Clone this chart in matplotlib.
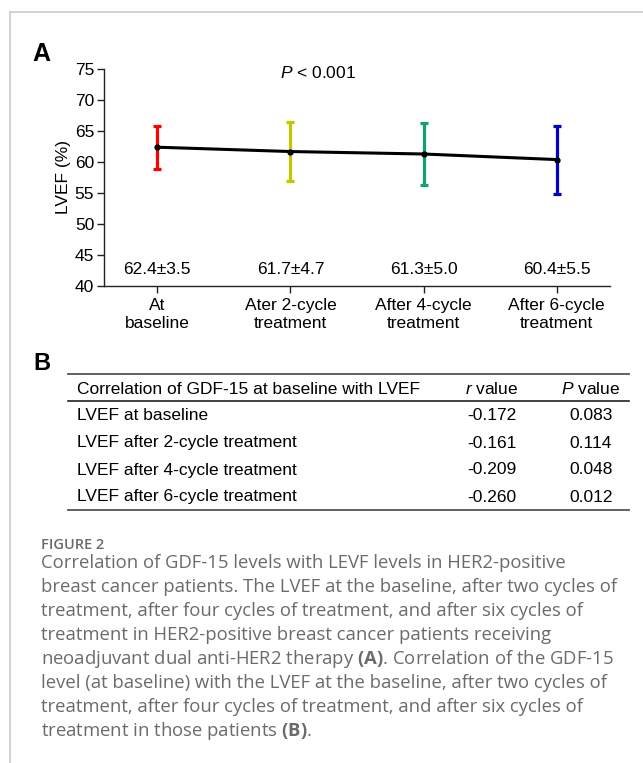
import matplotlib
matplotlib.use('Agg')
import matplotlib.pyplot as plt
import numpy as np

plt.rcParams['font.family'] = ['Liberation Sans', 'DejaVu Sans']
plt.rcParams['mathtext.fontset'] = 'custom'
plt.rcParams['mathtext.rm'] = 'Liberation Sans'
plt.rcParams['mathtext.it'] = 'Liberation Sans:italic'
plt.rcParams['mathtext.bf'] = 'Open Sans:bold'

# Dane - panel A
groups = ['At\nbaseline', 'Ater 2-cycle\ntreatment',
          'After 4-cycle\ntreatment', 'After 6-cycle\ntreatment']
lvef_mean = [62.4, 61.7, 61.3, 60.4]
lvef_sd = [3.5, 4.7, 5.0, 5.5]
group_colors = ['#ff0000', '#c6c600', '#12a072', '#0000c8']

# Dane - panel B
table_header = ['Correlation of GDF-15 at baseline with LVEF', '$r$ value', '$P$ value']
corr_rows = ['LVEF at baseline', 'LVEF after 2-cycle treatment',
             'LVEF after 4-cycle treatment', 'LVEF after 6-cycle treatment']
r_values = ['-0.172', '-0.161', '-0.209', '-0.260']
p_values = ['0.083', '0.114', '0.048', '0.012']

caption_lines = [
    'Correlation of GDF-15 levels with LEVF levels in HER2-positive',
    'breast cancer patients. The LVEF at the baseline, after two cycles of',
    'treatment, after four cycles of treatment, and after six cycles of',
    'treatment in HER2-positive breast cancer patients receiving',
    r'neoadjuvant dual anti-HER2 therapy $\mathbf{(A)}$. Correlation of the GDF-15',
    'level (at baseline) with the LVEF at the baseline, after two cycles of',
    'treatment, after four cycles of treatment, and after six cycles of',
    r'treatment in those patients $\mathbf{(B)}$.',
]

W, H = 643, 763
fig = plt.figure(figsize=(W / 100, H / 100), dpi=100)

# Panel A
ax = fig.add_axes([104 / W, 1 - 285.7 / H, (610 - 104) / W, (285.7 - 69.3) / H])
x = np.arange(1, len(groups) + 1)
for xi, m, s, c in zip(x, lvef_mean, lvef_sd, group_colors):
    ax.errorbar(xi, m, yerr=s, fmt='none', ecolor=c, elinewidth=2.3,
                capsize=3, capthick=2.3, zorder=2)
ax.plot(x, lvef_mean, color='black', lw=2.2, marker='o', ms=3.5, zorder=3)

for xi, m, s in zip(x, lvef_mean, lvef_sd):
    ax.text(xi, 42.6, f'{m:.1f}±{s:.1f}', ha='center', va='center', fontsize=12.5)
ax.text(2.21, 74.4, '$P$ < 0.001', ha='center', va='center', fontsize=12.5)

ax.set_xlim(0.6, 4.4)
ax.set_ylim(40, 75)
ax.set_yticks(np.arange(40, 76, 5))
ax.set_xticks(x)
ax.set_xticklabels(groups, linespacing=1.3)
ax.set_ylabel('LVEF (%)', fontsize=12.5, labelpad=3)
for sp in ['top', 'right']:
    ax.spines[sp].set_visible(False)
for sp in ['left', 'bottom']:
    ax.spines[sp].set_linewidth(1.0)
    ax.spines[sp].set_color('#222222')
ax.tick_params(labelsize=12.5, length=5, width=1.0, pad=2, color='#222222')
ax.tick_params(axis='x', pad=3.5)

# Warstwa na tabelę, podpis i ramkę (współrzędne w pikselach)
ov = fig.add_axes([0, 0, 1, 1])
ov.set_xlim(0, W)
ov.set_ylim(H, 0)
ov.axis('off')

# ramka
ov.plot([9.5, W], [11.5, 11.5], color='#cccccc', lw=1.2)
ov.plot([9.5, 9.5], [11.5, H], color='#cccccc', lw=1.2)

# etykiety paneli
ov.text(32, 54, 'A', fontsize=18, fontweight='bold', va='center', ha='left')
ov.text(33, 364, 'B', fontsize=17, fontweight='bold', va='center', ha='left')

# Panel B - tabela
tab_left, tab_right = 68, 629
ov.plot([tab_left, tab_right], [374, 374], color='#555555', lw=1.3)
ov.plot([tab_left, tab_right], [401, 401], color='#222222', lw=1.2)
ov.plot([tab_left, tab_right], [510, 510], color='#555555', lw=1.3)

r_col, p_col = 492, 591
ov.text(77, 389, table_header[0], fontsize=12.5, va='center', ha='left')
ov.text(r_col, 389, table_header[1], fontsize=12.5, va='center', ha='center')
ov.text(p_col, 389, table_header[2], fontsize=12.5, va='center', ha='center')
for i, (name, r, p) in enumerate(zip(corr_rows, r_values, p_values)):
    yy = 416 + 27 * i
    ov.text(77, yy, name, fontsize=12.5, va='center', ha='left')
    ov.text(r_col, yy, r, fontsize=12.5, va='center', ha='center')
    ov.text(p_col, yy, p, fontsize=12.5, va='center', ha='center')

# Podpis
cap_color = '#6b6b6b'
ov.text(41, 545, 'FIGURE 2', fontsize=10.5, fontweight='semibold', color=cap_color,
        family='Open Sans', va='center', ha='left')
for i, line in enumerate(caption_lines):
    ov.text(41, 563 + 24 * i, line, fontsize=13.3, color=cap_color,
            family='Open Sans', va='center', ha='left')

plt.savefig('out.png', dpi=100)
